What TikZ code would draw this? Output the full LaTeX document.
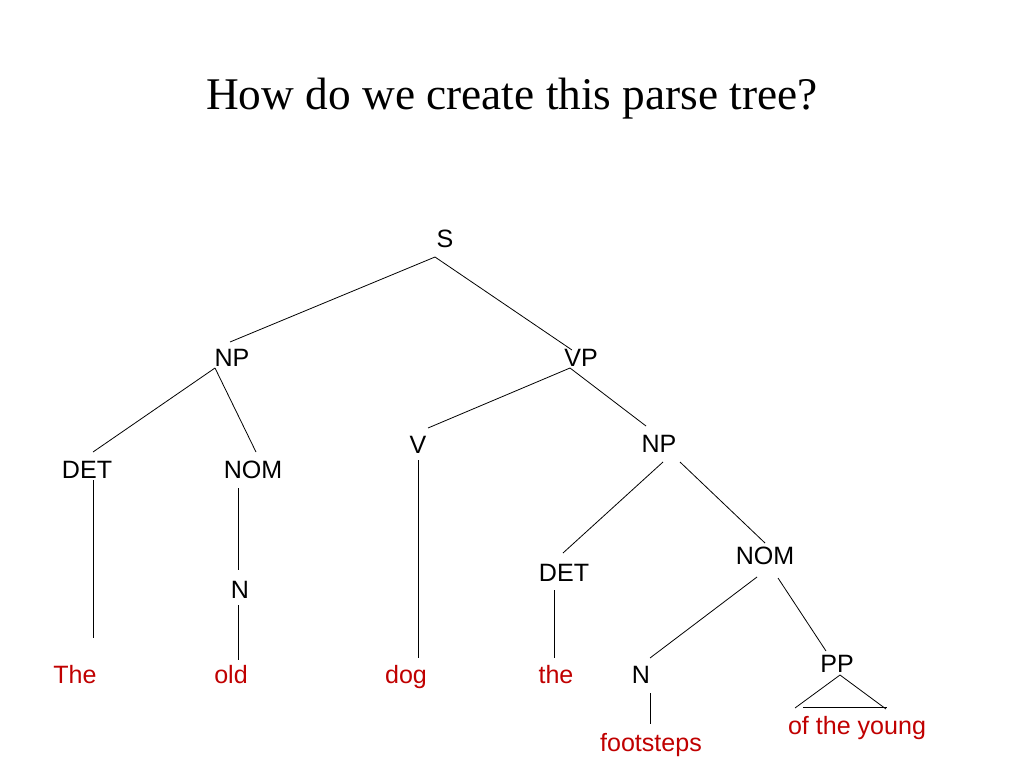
\documentclass[tikz,border=0pt]{standalone}
\usepackage{fontspec}
\setmainfont{Liberation Serif}
\setsansfont{Liberation Sans}
\definecolor{wordred}{RGB}{192,0,0}
\begin{document}
\begin{tikzpicture}[
    x=0.75pt, y=-0.75pt,
    cat/.style={font=\sffamily\fontsize{18.8}{21}\selectfont, inner sep=0pt, text height=10.5pt, text depth=4pt},
    word/.style={cat, text=wordred},
    edge/.style={draw, line width=0.6pt}
]
    \useasboundingbox (0,0) rectangle (1024,768);
    % Title
    \node[font=\fontsize{34}{38}\selectfont] (title) at (512,99) {How do we create this parse tree?};

    % Categories
    \node[cat] (s) at (445,243) {S};
    \node[cat] (np1) at (232,362) {NP};
    \node[cat] (vp) at (581,362) {VP};
    \node[cat] (det1) at (87,474) {DET};
    \node[cat] (nom1) at (253,474) {NOM};
    \node[cat] (n1) at (240,594) {N};
    \node[cat] (v) at (418,449) {V};
    \node[cat] (np2) at (659,448) {NP};
    \node[cat] (det2) at (564,577) {DET};
    \node[cat] (nom2) at (765,560) {NOM};
    \node[cat] (n2) at (641,679) {N};
    \node[cat] (pp) at (837,668) {PP};

    % Words
    \node[word] (the1) at (75,679) {The};
    \node[word] (old) at (231,679) {old};
    \node[word] (dog) at (406,679) {dog};
    \node[word] (the2) at (556,679) {the};
    \node[word] (foot) at (651,747) {footsteps};
    \node[word] (young) at (857,730) {of the young};

    % Branch ends
    \coordinate (s-b) at (435,257);
    \coordinate (np1-t) at (230,342);
    \coordinate (vp-t) at (572,350);
    \coordinate (np1-b) at (215,368);
    \coordinate (det1-t) at (93,452);
    \coordinate (nom1-t) at (256,452);
    \coordinate (vp-b) at (570,368);
    \coordinate (v-t) at (428,428);
    \coordinate (np2-t) at (646,426);
    \coordinate (det1-b) at (93,480);
    \coordinate (the1-t) at (93,638);
    \coordinate (nom1-b) at (238,488);
    \coordinate (n1-t) at (238,570);
    \coordinate (n1-b) at (238,605);
    \coordinate (old-t) at (238,660);
    \coordinate (v-b) at (418,460);
    \coordinate (dog-t) at (418,658);
    \coordinate (np2-bl) at (663,462);
    \coordinate (np2-br) at (680,462);
    \coordinate (det2-t) at (563,553);
    \coordinate (nom2-t) at (765,543);
    \coordinate (det2-b) at (554,590);
    \coordinate (the2-t) at (554,658);
    \coordinate (nom2-bl) at (757,577);
    \coordinate (nom2-br) at (778,578);
    \coordinate (n2-t) at (650,658);
    \coordinate (pp-t) at (826,651);
    \coordinate (n2-b) at (650,693);
    \coordinate (foot-t) at (650,724);
    \coordinate (tri-a) at (840,675);
    \coordinate (tri-l) at (795,708);
    \coordinate (tri-r) at (886,709);
    \coordinate (bar-l) at (803,707);
    \coordinate (bar-r) at (887,707);

    % Branches
    \foreach \a/\b in {s-b/np1-t, s-b/vp-t, np1-b/det1-t, np1-b/nom1-t,
        vp-b/v-t, vp-b/np2-t, det1-b/the1-t, nom1-b/n1-t, n1-b/old-t,
        v-b/dog-t, np2-bl/det2-t, np2-br/nom2-t, det2-b/the2-t,
        nom2-bl/n2-t, nom2-br/pp-t, n2-b/foot-t, bar-l/bar-r} {
        \draw[edge] (\a) -- (\b);
    }
    \draw[edge] (tri-l) -- (tri-a) -- (tri-r);
\end{tikzpicture}
\end{document}
